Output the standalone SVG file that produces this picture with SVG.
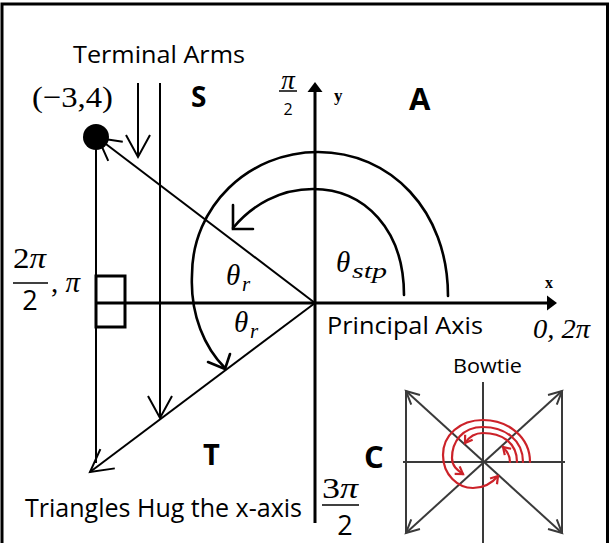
<svg xmlns="http://www.w3.org/2000/svg" width="610" height="543" viewBox="0 0 610 543">
<defs>
<style>
.ln{stroke:#000;stroke-width:2;fill:none}
.ax{stroke:#000;stroke-width:3;fill:none}
.arc{stroke:#000;stroke-width:2.6;fill:none;stroke-linecap:round}
.bw{stroke:#3a3a3a;stroke-width:2;fill:none}
.red{stroke:#cc2229;stroke-width:2.2;fill:none;stroke-linecap:round}
.sans{font-family:"Open Sans","Liberation Sans",sans-serif;fill:#000}
.bold{font-family:"Open Sans","Liberation Sans",sans-serif;font-weight:bold;fill:#000}
.math{font-family:"Liberation Serif","DejaVu Serif",serif;fill:#000}
.it{font-style:italic}
</style>
<marker id="open" markerUnits="userSpaceOnUse" markerWidth="40" markerHeight="40" refX="0" refY="0" orient="auto" overflow="visible">
<path d="M-22,-12 L0,0 L-22,12" fill="none" stroke="#000" stroke-width="2"/>
</marker>
<marker id="small" markerUnits="userSpaceOnUse" markerWidth="20" markerHeight="20" refX="0" refY="0" orient="auto-start-reverse" overflow="visible">
<path d="M-13,-6.5 L0,0 L-13,6.5" fill="none" stroke="#3a3a3a" stroke-width="2"/>
</marker>
<marker id="redhead" markerUnits="userSpaceOnUse" markerWidth="20" markerHeight="20" refX="0" refY="0" orient="auto" overflow="visible">
<path d="M-7,-4.5 L0,0 L-7,4.5" fill="none" stroke="#cc2229" stroke-width="2.2"/>
</marker>
</defs>
<rect x="2" y="4" width="605.5" height="560" fill="#fff" stroke="#000" stroke-width="3"/>

<g id="axes">
<line class="ax" x1="315" y1="523" x2="315" y2="90"/>
<polygon points="315,82 307.5,92 322.5,92" fill="#000"/>
<line class="ax" x1="96" y1="303" x2="549" y2="303"/>
<polygon points="557,303 547,295.5 547,310.5" fill="#000"/>
</g>

<g id="connectors">
<line class="ln" x1="96" y1="137" x2="96" y2="463"/>
<line class="ln" x1="315" y1="303" x2="98" y2="138" marker-end="url(#open)"/>
<line class="ln" x1="315" y1="303" x2="90" y2="472" marker-end="url(#open)"/>
<line class="ln" x1="138" y1="83" x2="138" y2="157" stroke-width="2.4" marker-end="url(#open)"/>
<line class="ln" x1="160" y1="83" x2="160" y2="418" stroke-width="2.4" marker-end="url(#open)"/>
<path class="arc" d="M448,296 C448,210 390,152 318,152 C248,152 192,207 192,275 C190,315 205,348 225,368"/>
<polyline class="arc" points="208,362 225,369 230,354"/>
<path class="arc" d="M404,295 C404,230 365,189 313,189 C280,189 252,205 233,228"/>
<polyline class="arc" points="233,205 233,229 253,229"/>
</g>

<g id="point">
<circle cx="96" cy="137" r="13" fill="#000"/>
<text class="math" x="32" y="107" font-size="30" textLength="81" lengthAdjust="spacingAndGlyphs">(−3,4)</text>
</g>

<g id="right-angle">
<rect x="96" y="276" width="29" height="51" fill="none" stroke="#000" stroke-width="3"/>
</g>

<g id="labels">
<text class="sans" x="73" y="63" font-size="24" textLength="172" lengthAdjust="spacingAndGlyphs">Terminal Arms</text>
<text class="bold" x="191" y="107" font-size="28">S</text>
<text class="bold" x="409" y="110" font-size="31">A</text>
<text class="bold" x="203" y="465" font-size="29">T</text>
<text class="bold" x="364" y="468" font-size="31">C</text>

<text class="math it" x="288" y="89" font-size="27" text-anchor="middle">π</text>
<line x1="279" y1="91" x2="297" y2="91" stroke="#000" stroke-width="1.5"/>
<text class="sans" x="288" y="115" font-size="16" text-anchor="middle">2</text>
<text class="math" x="334" y="101" font-size="17" font-weight="bold">y</text>

<text class="math" x="13" y="268" font-size="29" textLength="33" lengthAdjust="spacingAndGlyphs">2<tspan class="it">π</tspan></text>
<line x1="13" y1="283" x2="48" y2="283" stroke="#000" stroke-width="1.5"/>
<text class="sans" x="30" y="310" font-size="27" text-anchor="middle">2</text>
<text class="math" x="51" y="292" font-size="29" textLength="29" lengthAdjust="spacingAndGlyphs">, <tspan class="it">π</tspan></text>

<text class="math it" x="226" y="285" font-size="29">θ</text>
<text class="math it" x="242" y="291" font-size="21">r</text>
<text class="math it" x="234" y="332" font-size="29">θ</text>
<text class="math it" x="250" y="338" font-size="21">r</text>
<text class="math it" x="336" y="272" font-size="29">θ</text>
<text class="math it" x="352" y="278" font-size="21" textLength="35" lengthAdjust="spacingAndGlyphs">stp</text>

<text class="math" x="545" y="288" font-size="16" font-weight="bold">x</text>
<text class="sans" x="327" y="334" font-size="24" textLength="156" lengthAdjust="spacingAndGlyphs">Principal Axis</text>
<text class="math it" x="533" y="338" font-size="28" textLength="57" lengthAdjust="spacingAndGlyphs">0, 2π</text>
<text class="sans" x="453" y="373" font-size="20" textLength="69" lengthAdjust="spacingAndGlyphs">Bowtie</text>
<text class="sans" x="25" y="517" font-size="25" textLength="277" lengthAdjust="spacingAndGlyphs">Triangles Hug the x-axis</text>

<text class="math" x="322" y="498" font-size="29" textLength="36" lengthAdjust="spacingAndGlyphs">3<tspan class="it">π</tspan></text>
<line x1="322" y1="505" x2="359" y2="505" stroke="#000" stroke-width="1.5"/>
<text class="sans" x="345" y="535" font-size="27" text-anchor="middle">2</text>
</g>

<g id="bowtie">
<line class="bw" x1="483" y1="382" x2="483" y2="543"/>
<line class="bw" x1="403" y1="462" x2="565" y2="462"/>
<line class="bw" x1="406" y1="391" x2="406" y2="533"/>
<line class="bw" x1="562" y1="391" x2="562" y2="533"/>
<line class="bw" x1="406" y1="391" x2="562" y2="533" marker-start="url(#small)" marker-end="url(#small)"/>
<line class="bw" x1="562" y1="391" x2="406" y2="533" marker-start="url(#small)" marker-end="url(#small)"/>
<path class="red" d="M510,462 C510,455 507,451 503,447" marker-end="url(#redhead)"/>
<path class="red" d="M517,462 C517,442 501,433 483,433 C475,433 469,437 465,443" marker-end="url(#redhead)"/>
<path class="red" d="M523,462 C523,440 505,427 483,427 C462,427 452,442 452,458 C452,466 457,470 463,474" marker-end="url(#redhead)"/>
<path class="red" d="M530,462 C530,437 508,420 483,420 C460,420 443,435 443,455 C443,475 458,488 473,488 C485,488 493,482 498,476" marker-end="url(#redhead)"/>
</g>
</svg>
